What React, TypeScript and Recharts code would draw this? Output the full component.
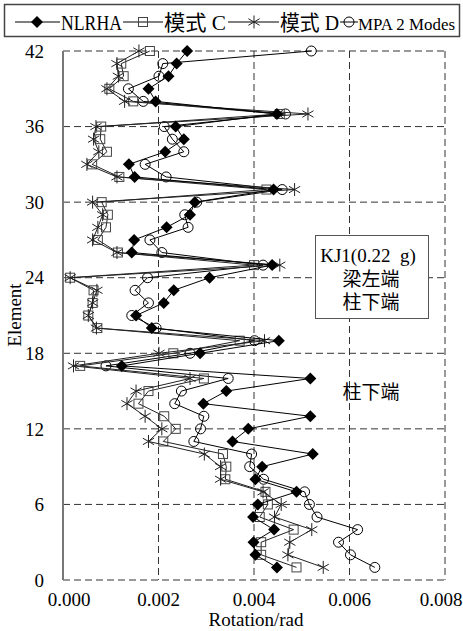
import { ScatterChart, Scatter, XAxis, YAxis, CartesianGrid } from 'recharts';

// element numbers along the column height
const elements = [
  1, 2, 3, 4, 5, 6, 7, 8, 9, 10, 11, 12, 13, 14, 15, 16, 17, 18, 19, 20, 21,
  22, 23, 24, 25, 26, 27, 28, 29, 30, 31, 32, 33, 34, 35, 36, 37, 38, 39, 40, 41, 42,
];

// rotation (rad) per element, element 1 first
const nlrha = [
  0.00448, 0.00403, 0.00399, 0.00442, 0.00398, 0.00408, 0.00489, 0.00403, 0.00417, 0.00523,
  0.00355, 0.00388, 0.00518, 0.00294, 0.00342, 0.00518, 0.00123, 0.00287, 0.00452, 0.00186,
  0.00153, 0.00211, 0.00232, 0.00307, 0.00438, 0.00144, 0.00149, 0.00217, 0.00266, 0.00276,
  0.00441, 0.0015, 0.00138, 0.00214, 0.00253, 0.00236, 0.00448, 0.00194, 0.00179, 0.00221,
  0.00238, 0.0026,
];
const modeC = [
  0.00489, 0.00415, 0.00415, 0.00483, 0.00412, 0.00429, 0.00424, 0.0034, 0.00342, 0.00335,
  0.0021, 0.00236, 0.00212, 0.00158, 0.00179, 0.00295, 0.00036, 0.00231, 0.0037, 0.00072,
  0.00053, 0.00062, 0.00064, 0.00015, 0.004, 0.00115, 0.00073, 0.0009, 0.00094, 0.00081,
  0.00426, 0.00118, 0.00061, 0.00092, 0.00078, 0.0008, 0.00454, 0.00147, 0.00097, 0.00127,
  0.00122, 0.00182,
];
const modeD = [
  0.00545, 0.00471, 0.00475, 0.00521, 0.00443, 0.00457, 0.00419, 0.0033, 0.0033, 0.00296,
  0.00179, 0.00207, 0.00172, 0.00134, 0.00153, 0.00266, 0.00022, 0.00201, 0.00422, 0.0007,
  0.00053, 0.00062, 0.00071, 0.00015, 0.00454, 0.00113, 0.00062, 0.00073, 0.00083, 0.00062,
  0.00485, 0.00113, 0.0005, 0.00075, 0.00064, 0.00069, 0.00513, 0.00129, 0.00092, 0.00116,
  0.00113, 0.00159,
];
const mpa2 = [
  0.00653, 0.00602, 0.00577, 0.00617, 0.00532, 0.00516, 0.00506, 0.0042, 0.00391, 0.00395,
  0.00274, 0.00288, 0.00295, 0.00234, 0.00248, 0.00346, 0.0009, 0.00266, 0.00401, 0.00195,
  0.00144, 0.00179, 0.00151, 0.00177, 0.00419, 0.00207, 0.00182, 0.00262, 0.00255, 0.0028,
  0.00459, 0.00216, 0.00172, 0.00253, 0.00229, 0.00212, 0.00466, 0.00168, 0.00137, 0.00201,
  0.00209, 0.0052,
];

const xTicks = [0, 0.002, 0.004, 0.006, 0.008];
const yTicks = [0, 6, 12, 18, 24, 30, 36, 42];

const serif = '"Liberation Serif", "Times New Roman", serif';
const cjk = '"Liberation Serif", "Noto Sans CJK SC", serif';

const toPoints = (vals: number[]) => vals.map((x, i) => ({ x, y: elements[i] }));

function Diamond({ cx, cy }: any) {
  return (
    <polygon
      points={`${cx},${cy - 6} ${cx + 6},${cy} ${cx},${cy + 6} ${cx - 6},${cy}`}
      fill="#000"
    />
  );
}

function Square({ cx, cy }: any) {
  return <rect x={cx - 4.5} y={cy - 4.5} width={9} height={9} fill="none" stroke="#444" strokeWidth={1} />;
}

function Asterisk({ cx, cy }: any) {
  const r = 6.5;
  const d = 5.6;
  return (
    <g stroke="#222" strokeWidth={1}>
      <line x1={cx} y1={cy - r} x2={cx} y2={cy + r} />
      <line x1={cx - d} y1={cy - r / 2} x2={cx + d} y2={cy + r / 2} />
      <line x1={cx - d} y1={cy + r / 2} x2={cx + d} y2={cy - r / 2} />
    </g>
  );
}

function Ring({ cx, cy }: any) {
  return <circle cx={cx} cy={cy} r={5} fill="none" stroke="#000" strokeWidth={1} />;
}

// outer labels pulled inward a little so 0.008 stays on the page
function XTick({ x, y, payload, index }: any) {
  const nudge = index === 0 ? 6 : index === xTicks.length - 1 ? -4 : 0;
  return (
    <text x={x + nudge} y={y} dy="0.71em" textAnchor="middle" fontSize={19} fontFamily={serif} fill="#000">
      {payload.value.toFixed(3)}
    </text>
  );
}

function Legend() {
  const y = 22;
  return (
    <g>
      <rect x={4.5} y={4.5} width={455} height={32} fill="#fff" stroke="#444" strokeWidth={1.5} />
      <g stroke="#000" strokeWidth={1}>
        <line x1={15} y1={y} x2={60} y2={y} />
        <line x1={123} y1={y} x2={163} y2={y} />
        <line x1={228} y1={y} x2={279} y2={y} />
        <line x1={340} y1={y} x2={358} y2={y} />
      </g>
      <Diamond cx={37} cy={y} />
      <Square cx={143} cy={y} />
      <Asterisk cx={254} cy={y} />
      <Ring cx={349} cy={y} />
      <g fontFamily={cjk} fontSize={21} fill="#000">
        <text x={61} y={30} textLength={61} lengthAdjust="spacingAndGlyphs">NLRHA</text>
        <text x={164} y={30} textLength={62} lengthAdjust="spacingAndGlyphs">模式 C</text>
        <text x={280} y={30} textLength={59} lengthAdjust="spacingAndGlyphs">模式 D</text>
        <text x={358} y={30} fontSize={17} textLength={97} lengthAdjust="spacingAndGlyphs">MPA 2 Modes</text>
      </g>
    </g>
  );
}

function Notes() {
  return (
    <g fontFamily={cjk} fontSize={19} fill="#000" textAnchor="middle">
      <rect x={315.5} y={235.5} width={113} height={83} fill="#fff" stroke="#555" strokeWidth={1} />
      <text x={368} y={262}>KJ1(0.22{'\u00a0'} g)</text>
      <text x={371} y={286}>梁左端</text>
      <text x={371} y={309}>柱下端</text>
      <text x={371} y={399}>柱下端</text>
      <text x={256} y={626} fontFamily={serif}>Rotation/rad</text>
      <text x={14} y={315} fontFamily={serif} transform="rotate(-90 14 315)" dominantBaseline="central">
        Element
      </text>
    </g>
  );
}

export default function App() {
  return (
    <div style={{ position: 'relative', width: 463, height: 631, background: '#fff' }}>
      <style>{'body { margin: 0; }'}</style>
      <ScatterChart width={463} height={631} margin={{ top: 51, right: 18, bottom: 0, left: 0 }}>
        <CartesianGrid stroke="#333" strokeDasharray="7 4" strokeWidth={1} />
        <XAxis
          type="number"
          dataKey="x"
          domain={[0, 0.008]}
          ticks={xTicks}
          height={51}
          axisLine={false}
          tickLine={false}
          tickSize={0}
          tickMargin={13}
          tick={<XTick />}
        />
        <YAxis
          type="number"
          dataKey="y"
          domain={[0, 42]}
          ticks={yTicks}
          width={63}
          axisLine={{ stroke: '#777', strokeWidth: 2 }}
          tickLine={false}
          tickSize={0}
          tickMargin={19}
          tick={{ fontSize: 19, fontFamily: serif, fill: '#000' }}
        />
        <Scatter
          name="MPA 2 Modes"
          data={toPoints(mpa2)}
          line={{ stroke: '#000', strokeWidth: 1 }}
          lineType="joint"
          shape={Ring}
          isAnimationActive={false}
        />
        <Scatter
          name="模式 C"
          data={toPoints(modeC)}
          line={{ stroke: '#222', strokeWidth: 1 }}
          lineType="joint"
          shape={Square}
          isAnimationActive={false}
        />
        <Scatter
          name="模式 D"
          data={toPoints(modeD)}
          line={{ stroke: '#222', strokeWidth: 1 }}
          lineType="joint"
          shape={Asterisk}
          isAnimationActive={false}
        />
        <Scatter
          name="NLRHA"
          data={toPoints(nlrha)}
          line={{ stroke: '#000', strokeWidth: 1 }}
          lineType="joint"
          shape={Diamond}
          isAnimationActive={false}
        />
      </ScatterChart>
      <svg
        width={463}
        height={631}
        style={{ position: 'absolute', left: 0, top: 0, pointerEvents: 'none' }}
      >
        <Legend />
        <Notes />
      </svg>
    </div>
  );
}
